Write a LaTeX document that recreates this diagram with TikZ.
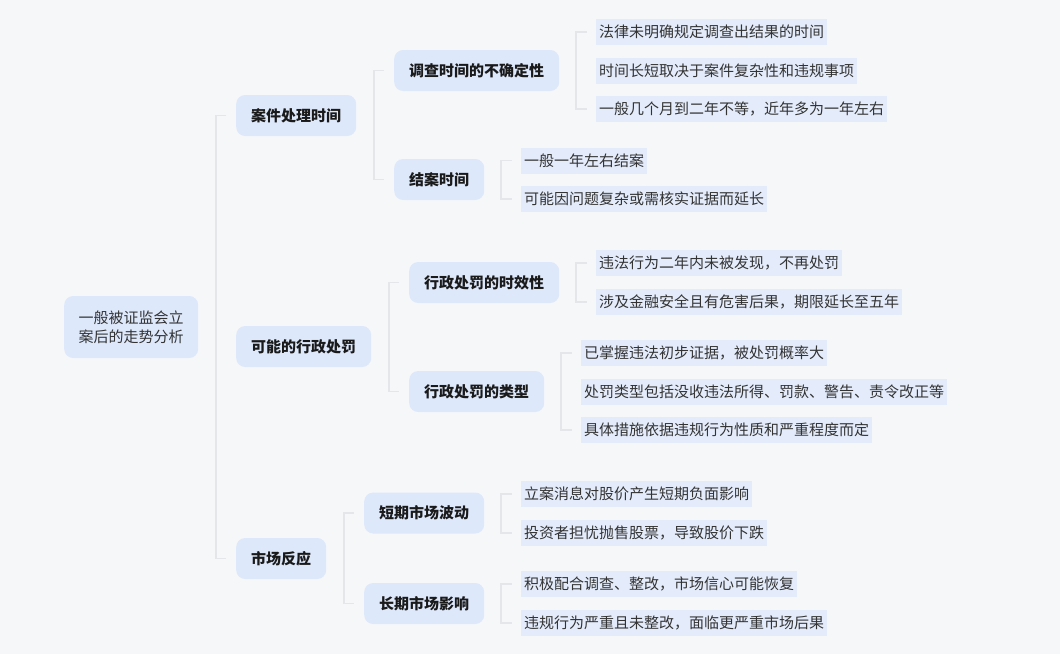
\documentclass[tikz,border=0pt]{standalone}
\usepackage{fontspec}
\setmainfont{Noto Sans CJK SC}
\definecolor{bgc}{RGB}{246,247,249}
\definecolor{nodefill}{RGB}{221,232,251}
\definecolor{leaffill}{RGB}{228,236,251}
\definecolor{linec}{RGB}{228,230,234}
\definecolor{txtdark}{RGB}{26,26,26}
\definecolor{txtleaf}{RGB}{51,51,51}
\begin{document}
\begin{tikzpicture}[x=1pt,y=-1pt,
  base/.style={text height=13.2pt, text depth=1.8pt, anchor=west, inner ysep=0pt},
  topic/.style={base, fill=nodefill, rounded corners=9pt, inner xsep=15pt, minimum height=41pt,
    font=\fontsize{15}{19}\selectfont\bfseries, text=txtdark},
  leaf/.style={base, fill=leaffill, inner xsep=3pt, minimum height=26pt,
    font=\fontsize{15}{19}\selectfont, text=txtleaf},
  conn/.style={draw=linec, line width=1.5pt}]
\fill[bgc] (0,0) rectangle (1060,654);
\useasboundingbox (0,0) rectangle (1060,654);

% root
\node[fill=nodefill, rounded corners=9pt, minimum width=134pt, minimum height=62pt,
  align=center, anchor=west, inner sep=0pt, font=\fontsize{15}{19}\selectfont, text=txtleaf]
  (root) at (64,327) {一般被证监会立\\案后的走势分析};

% level 1
\node[topic] (kj) at (236,115.5) {案件处理时间};
\node[topic] (kn) at (236,346.5) {可能的行政处罚};
\node[topic] (sc) at (236,558.5) {市场反应};

% level 2
\node[topic] (a1) at (394,70.5) {调查时间的不确定性};
\node[topic] (a2) at (394,179.5) {结案时间};
\node[topic] (b1) at (409,282.5) {行政处罚的时效性};
\node[topic] (b2) at (409,391.5) {行政处罚的类型};
\node[topic] (c1) at (364,513) {短期市场波动};
\node[topic] (c2) at (364,603.5) {长期市场影响};

% leaves
\node[leaf] (a11) at (596,32) {法律未明确规定调查出结果的时间};
\node[leaf] (a12) at (596,70.5) {时间长短取决于案件复杂性和违规事项};
\node[leaf] (a13) at (596,109) {一般几个月到二年不等，近年多为一年左右};
\node[leaf] (a21) at (521,160.5) {一般一年左右结案};
\node[leaf] (a22) at (521,199) {可能因问题复杂或需核实证据而延长};
\node[leaf] (b11) at (596,263) {违法行为二年内未被发现，不再处罚};
\node[leaf] (b12) at (596,302) {涉及金融安全且有危害后果，期限延长至五年};
\node[leaf] (b21) at (581,353) {已掌握违法初步证据，被处罚概率大};
\node[leaf] (b22) at (581,392) {处罚类型包括没收违法所得、罚款、警告、责令改正等};
\node[leaf] (b23) at (581,430) {具体措施依据违规行为性质和严重程度而定};
\node[leaf] (c11) at (521,494) {立案消息对股价产生短期负面影响};
\node[leaf] (c12) at (521,533) {投资者担忧抛售股票，导致股价下跌};
\node[leaf] (c21) at (521,584) {积极配合调查、整改，市场信心可能恢复};
\node[leaf] (c22) at (521,623) {违规行为严重且未整改，面临更严重市场后果};

% brackets
\draw[conn] ([xshift=-10pt]kj.west) -- ([xshift=-20pt]kj.west) |- ([xshift=-10pt]sc.west);
\draw[conn] ([xshift=-10pt]a1.west) -- ([xshift=-20pt]a1.west) |- ([xshift=-10pt]a2.west);
\draw[conn] ([xshift=-10pt]b1.west) -- ([xshift=-20pt]b1.west) |- ([xshift=-10pt]b2.west);
\draw[conn] ([xshift=-10pt]c1.west) -- ([xshift=-20pt]c1.west) |- ([xshift=-10pt]c2.west);
\draw[conn] ([xshift=-9pt]a11.west) -- ([xshift=-20pt]a11.west) |- ([xshift=-9pt]a13.west);
\draw[conn] ([xshift=-9pt]a21.west) -- ([xshift=-20pt]a21.west) |- ([xshift=-9pt]a22.west);
\draw[conn] ([xshift=-9pt]b11.west) -- ([xshift=-20pt]b11.west) |- ([xshift=-9pt]b12.west);
\draw[conn] ([xshift=-9pt]b21.west) -- ([xshift=-20pt]b21.west) |- ([xshift=-9pt]b23.west);
\draw[conn] ([xshift=-9pt]c11.west) -- ([xshift=-20pt]c11.west) |- ([xshift=-9pt]c12.west);
\draw[conn] ([xshift=-9pt]c21.west) -- ([xshift=-20pt]c21.west) |- ([xshift=-9pt]c22.west);
\end{tikzpicture}
\end{document}
